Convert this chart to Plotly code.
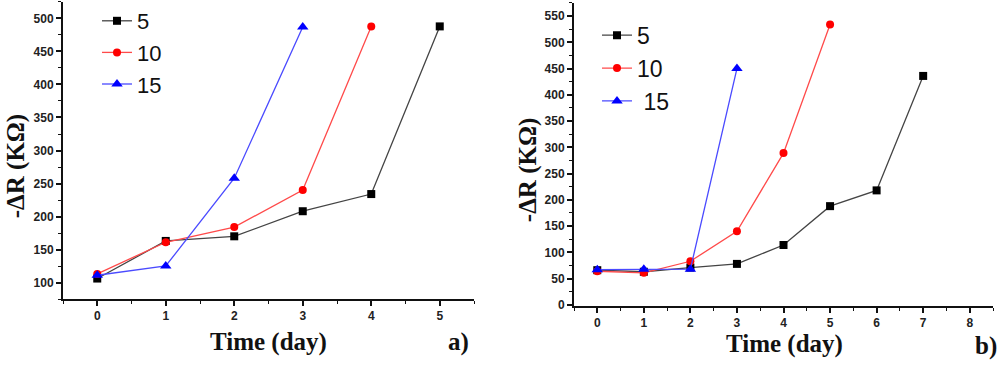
import plotly.graph_objects as go

# Panel a data
days_a = [0, 1, 2, 3, 4, 5]
a_5 = [106, 163, 170, 208, 234, 488]
a_10 = [113, 161, 184, 240, 488]
a_15 = [111, 125, 258, 487]

# Panel b data
days_b = [0, 1, 2, 3, 4, 5, 6, 7]
b_5 = [66, 63, 71, 78, 114, 188, 218, 436]
b_10 = [64, 61, 83, 140, 289, 534]
b_15 = [67, 68, 68, 450]

series_names = ["5", "10", "15"]
colors = ["#000000", "#ff0000", "#0000ff"]
line_colors = ["#444444", "#ff4a4a", "#4a4aff"]
symbols = ["square", "circle", "triangle-up"]
marker_sizes = [8, 8, 10]

fig = go.Figure()

panel_a = [a_5, a_10, a_15]
panel_b = [b_5, b_10, b_15]

for i, ys in enumerate(panel_a):
    fig.add_trace(go.Scatter(
        x=days_a[:len(ys)], y=ys, mode="lines+markers", name=series_names[i],
        line=dict(color=line_colors[i], width=1.3),
        marker=dict(color=colors[i], symbol=symbols[i], size=marker_sizes[i]),
        xaxis="x", yaxis="y", legend="legend"))

for i, ys in enumerate(panel_b):
    fig.add_trace(go.Scatter(
        x=days_b[:len(ys)], y=ys, mode="lines+markers",
        name=series_names[i] if i < 2 else " " + series_names[i],
        line=dict(color=line_colors[i], width=1.3),
        marker=dict(color=colors[i], symbol=symbols[i], size=marker_sizes[i]),
        xaxis="x2", yaxis="y2", legend="legend2"))

tickfont = dict(family="Arial, Liberation Sans", size=12, color="#222", weight="bold")
axis_common = dict(showline=True, linecolor="#111", linewidth=2, ticks="outside",
                   ticklen=5, tickwidth=1.5, tickcolor="#111", showgrid=False,
                   zeroline=False, tickfont=tickfont, mirror=False)
minor = dict(ticklen=3, tickcolor="#111", ticks="outside", tickwidth=1.2)

fig.update_layout(
    width=1000, height=366,
    margin=dict(l=0, r=0, t=0, b=0),
    plot_bgcolor="white", paper_bgcolor="white",
    showlegend=True,
    xaxis=dict(domain=[0.063, 0.474], range=[-0.5, 5.5], tick0=0, dtick=1,
               anchor="y", minor=dict(dtick=0.5, **minor), **axis_common),
    yaxis=dict(domain=[0.1694, 0.9945], range=[75, 525], tick0=0, dtick=50,
               anchor="x", minor=dict(dtick=25, **minor), **axis_common),
    xaxis2=dict(domain=[0.574, 0.993], range=[-0.5, 8.5], tick0=0, dtick=1,
                anchor="y2", minor=dict(dtick=0.5, **minor), **axis_common),
    yaxis2=dict(domain=[0.1503, 0.9918], range=[-2, 575], tick0=0, dtick=50,
                anchor="x2", minor=dict(dtick=25, **minor), **axis_common),
    legend=dict(x=0.097, y=1.0, xanchor="left", yanchor="top",
                font=dict(family="Arial, Liberation Sans", size=22, color="#111"),
                bgcolor="rgba(0,0,0,0)", itemwidth=30, tracegroupgap=0),
    legend2=dict(x=0.597, y=0.962, xanchor="left", yanchor="top",
                 font=dict(family="Arial, Liberation Sans", size=23, color="#111"),
                 bgcolor="rgba(0,0,0,0)", itemwidth=30, tracegroupgap=0),
)

title_font = dict(family="Liberation Serif, Times New Roman", size=25, color="#111")
anns = [
    dict(text="<b>-ΔR (KΩ)</b>", x=16 / 1000, y=1 - 169 / 366, textangle=-90,
         xanchor="center", yanchor="middle"),
    dict(text="<b>-ΔR (KΩ)</b>", x=528 / 1000, y=1 - 173 / 366, textangle=-90,
         xanchor="center", yanchor="middle"),
    dict(text="<b>Time (day)</b>", x=268 / 1000, y=1 - 348 / 366,
         xanchor="center", yanchor="middle"),
    dict(text="<b>Time (day)</b>", x=784 / 1000, y=1 - 350 / 366,
         xanchor="center", yanchor="middle"),
    dict(text="<b>a)</b>", x=470 / 1000, y=1 - 348 / 366,
         xanchor="right", yanchor="middle"),
    dict(text="<b>b)</b>", x=0.998, y=1 - 352 / 366,
         xanchor="right", yanchor="middle"),
]
for a in anns:
    fig.add_annotation(xref="paper", yref="paper", showarrow=False,
                       font=title_font, borderpad=0, **a)

fig.write_html("out.html",
               config={"displayModeBar": False},
               post_script="document.body.style.margin='0';document.body.style.overflow='hidden';")
